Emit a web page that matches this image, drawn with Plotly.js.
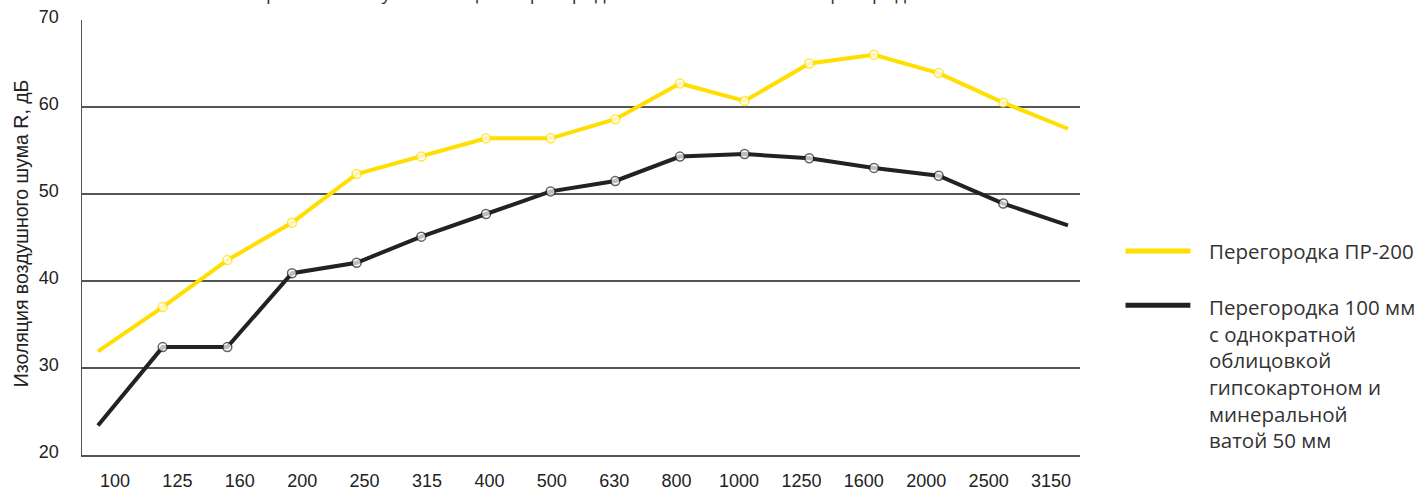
<!DOCTYPE html>
<html>
<head>
<meta charset="utf-8">
<script src="https://cdn.plot.ly/plotly-3.0.1.min.js"></script>
<style>html,body{margin:0;padding:0;background:#fff;}#chart{width:1424px;height:489px;}</style>
</head>
<body>
<div id="chart"></div>
<script>
// ---- data ----
var frequencies = ["100","125","160","200","250","315","400","500","630","800","1000","1250","1600","2000","2500","3150"];
var seriesNames = ["Перегородка ПР-200",
  "Перегородка 100 мм<br>с однократной<br>облицовкой<br>гипсокартоном и<br>минеральной<br>ватой 50 мм"];
var valuesPR200 = [31.9, 37.0, 42.4, 46.7, 52.3, 54.3, 56.4, 56.4, 58.6, 62.7, 60.7, 65.0, 66.0, 63.9, 60.5, 57.5];
var valuesGKL100 = [23.4, 32.4, 32.4, 40.9, 42.1, 45.1, 47.7, 50.3, 51.5, 54.3, 54.6, 54.1, 53.0, 52.1, 48.9, 46.4];
var yTicks = [20, 30, 40, 50, 60, 70];
var yTitle = "Изоляция воздушного шума R, дБ";
var xUnit = "Hz";
var chartTitle = "Сравнение звукоизоляции перегородки ПР-200 и обычной перегородки";

// ---- styling ----
var yellow = "#FFDE00", black = "#222222";
var n = frequencies.length;
var idx = frequencies.map(function(_, i){ return i; });
var markerSizes = idx.map(function(i){ return (i === 0 || i === n - 1) ? 0 : 9; });
// tick label positions (labels are laid out on a slightly different grid than the points)
var tickPos = idx.map(function(i){ return 0.263 + i * 0.965; });

function trace(vals, color, name) {
  return {
    x: idx, y: vals, name: name, type: "scatter", mode: "lines+markers",
    line: {color: color, width: 4},
    marker: {size: markerSizes, color: "#ffffff", line: {color: color, width: 1.5}},
    showlegend: false, hoverinfo: "y", cliponaxis: false
  };
}

var data = [trace(valuesPR200, yellow, seriesNames[0]), trace(valuesGKL100, black, seriesNames[1])];

var legendFont = {family: "Open Sans, sans-serif", size: 20.5, color: "#333333"};
var layout = {
  width: 1424, height: 489,
  margin: {l: 82, r: 344, t: 20, b: 34},
  paper_bgcolor: "#ffffff", plot_bgcolor: "#ffffff",
  title: {text: chartTitle, font: {family: "Open Sans, sans-serif", size: 19, color: "#333333"},
          xref: "paper", x: 0.51, xanchor: "center", yref: "container", y: 1.0, yanchor: "bottom"},
  xaxis: {
    range: [-0.247, 15.186], tickmode: "array", tickvals: tickPos, ticktext: frequencies,
    showgrid: false, zeroline: false, showline: true, linecolor: "#555555", linewidth: 1.5,
    ticks: "", ticklabelstandoff: 9,
    tickfont: {family: "Liberation Sans, Arial, sans-serif", size: 18, color: "#222222"}
  },
  yaxis: {
    range: [20, 70], tickmode: "array", tickvals: yTicks,
    showgrid: true, gridcolor: "#555555", gridwidth: 1.3, zeroline: false,
    showline: true, linecolor: "#555555", linewidth: 1.5,
    ticks: "", ticklabelstandoff: 18, ticklabelshift: -3,
    tickfont: {family: "Liberation Sans, Arial, sans-serif", size: 18, color: "#222222"}
  },
  shapes: [
    {type: "line", xref: "paper", yref: "paper", x0: 1.0456, x1: 1.1106, y0: 0.469, y1: 0.469,
     line: {color: yellow, width: 5}},
    {type: "line", xref: "paper", yref: "paper", x0: 1.0456, x1: 1.1106, y0: 0.344, y1: 0.344,
     line: {color: black, width: 5}}
  ],
  annotations: [
    {text: seriesNames[0], xref: "paper", yref: "paper", x: 1.1277, y: 0.469, xanchor: "left", yanchor: "middle",
     showarrow: false, align: "left", font: legendFont},
    {text: seriesNames[1], xref: "paper", yref: "paper", x: 1.1277, y: 0.378, xanchor: "left", yanchor: "top",
     showarrow: false, align: "left", font: legendFont},
    {text: xUnit, xref: "paper", yref: "paper", x: 1.037, y: -0.115, xanchor: "center", yanchor: "middle",
     showarrow: false, font: {family: "Open Sans, sans-serif", size: 18, color: "#333333"}},
    {text: yTitle, xref: "paper", yref: "paper", x: -0.061, y: 0.51, xanchor: "center", yanchor: "middle",
     textangle: -90, showarrow: false, font: {family: "Liberation Sans, Arial, sans-serif", size: 19.5, color: "#222222"}}
  ]
};

Plotly.newPlot("chart", data, layout, {staticPlot: true, displayModeBar: false});
</script>
</body>
</html>
